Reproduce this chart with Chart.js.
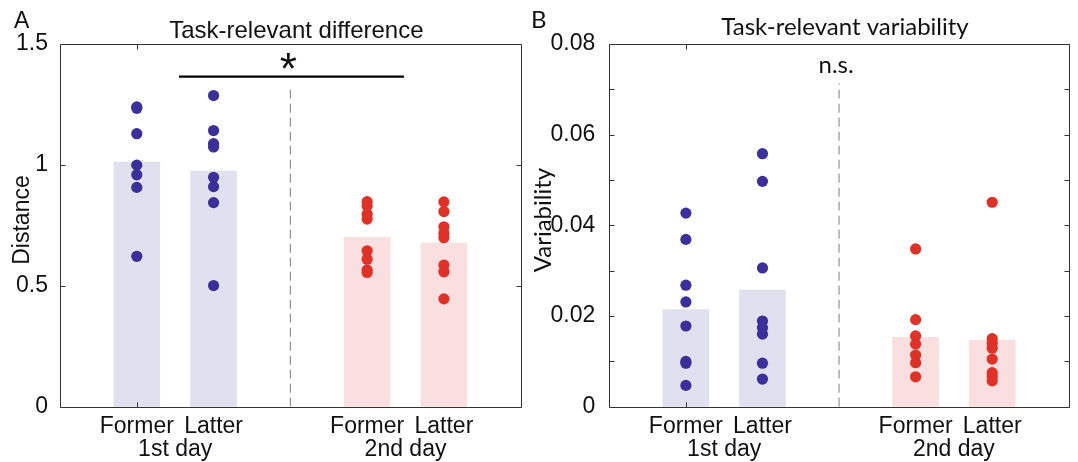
<!DOCTYPE html>
<html lang="en">
<head>
  <meta charset="UTF-8" />
  <title>Task-relevant difference and variability</title>
  <style>
    body { margin: 0; background: #fff; }
    #wrap { position: relative; width: 1078px; height: 462px; }
    #wrap canvas { position: absolute; left: 0; top: 0; }
    #chartB { pointer-events: none; }
  </style>
</head>
<body>
  <div id="wrap">
    <canvas id="chartA" width="1078" height="462"></canvas>
    <canvas id="chartB" width="1078" height="462"></canvas>
  </div>

  <script src="https://cdn.jsdelivr.net/npm/chart.js"></script>
  <script>
    // x positions: 1 = Former, 2 = Latter (1st day), 3 = divider, 4/5 = 2nd day
    const groupPos = [1, 2, 4, 5];
    const partLabels = ['Former', 'Latter'];
    const dayLabels = ['1st day', '2nd day'];

    // panel A: distance per subject
    const distFormer1 = [1.240, 1.234, 1.129, 0.999, 0.959, 0.907, 0.622];
    const distLatter1 = [1.287, 1.142, 1.088, 1.074, 0.949, 0.910, 0.844, 0.501];
    const distFormer2 = [0.848, 0.830, 0.796, 0.776, 0.645, 0.610, 0.566, 0.555];
    const distLatter2 = [0.847, 0.807, 0.744, 0.717, 0.699, 0.586, 0.558, 0.446];
    const distMeans = [1.012, 0.974, 0.700, 0.677];

    // panel B: variability per subject
    const varFormer1 = [0.0427, 0.0369, 0.0268, 0.0231, 0.0178, 0.0100, 0.0096, 0.0047];
    const varLatter1 = [0.0558, 0.0497, 0.0306, 0.0189, 0.0174, 0.0160, 0.0096, 0.0061];
    const varFormer2 = [0.0348, 0.0192, 0.0156, 0.0138, 0.0114, 0.0097, 0.0066];
    const varLatter2 = [0.0451, 0.0150, 0.0140, 0.0129, 0.0105, 0.0075, 0.0066, 0.0057];
    const varMeans = [0.0214, 0.0257, 0.0153, 0.0147];

    // significance bar (panel A) and divider tops
    const sigBarA = [1.55, 4.48, 1.365];
    const dividerTopA = 1.318;
    const dividerTopB = 0.0713;

    const BLUE = '#3b2f9c';
    const RED = '#e03127';
    const BLUE_BAR = '#e1e0ef';
    const RED_BAR = '#fadfe0';
    const FRAME = '#333333';
    const HELV = "'Liberation Sans', Arial, sans-serif";
    const MYRIAD = "Lato, 'Liberation Sans', sans-serif";

    // x tick labels: Former / Latter on the first line, day name on the second
    const xTickPos = [1, 1.5, 2, 4, 4.5, 5];
    const xTickText = [partLabels[0], ['', dayLabels[0]], partLabels[1],
                       partLabels[0], ['', dayLabels[1]], partLabels[1]];

    const toPts = (x, arr) => arr.map(v => ({ x: x, y: v }));

    // frame with inward ticks, like the original figure
    const framePlugin = {
      id: 'frame',
      afterDraw(chart) {
        const ctx = chart.ctx;
        const a = chart.chartArea;
        const ys = chart.scales.y;
        const xs = chart.scales.x;
        const L = Math.round(a.left) + 0.5, R = Math.round(a.right) + 0.5;
        const T = Math.round(a.top) + 0.5, B = Math.round(a.bottom) + 0.5;
        ctx.save();
        ctx.strokeStyle = FRAME;
        ctx.lineWidth = 1;
        ctx.beginPath();
        ctx.rect(L, T, R - L, B - T);
        ys.ticks.forEach(t => {
          const y = Math.round(ys.getPixelForValue(t.value)) + 0.5;
          ctx.moveTo(L, y); ctx.lineTo(L + 5, y);
          ctx.moveTo(R, y); ctx.lineTo(R - 5, y);
        });
        [1].forEach(v => {
          const x = Math.round(xs.getPixelForValue(v)) + 0.5;
          ctx.moveTo(x, T); ctx.lineTo(x, T + 5);
          ctx.moveTo(x, B); ctx.lineTo(x, B - 5);
        });
        ctx.stroke();
        ctx.restore();
      }
    };

    // titles, panel letters, axis titles and significance marks
    const textPlugin = {
      id: 'panelText',
      afterDraw(chart, args, o) {
        const ctx = chart.ctx;
        const a = chart.chartArea;
        ctx.save();
        ctx.fillStyle = '#111';
        ctx.textBaseline = 'alphabetic';
        ctx.textAlign = 'center';
        ctx.font = o.titleFont;
        ctx.fillText(o.title, (a.left + a.right) / 2 + 6, o.titleY);
        ctx.textAlign = 'left';
        ctx.font = o.letterFont;
        ctx.fillText(o.letter, o.letterX, 28);
        ctx.save();
        ctx.translate(o.yTitleX, 220);
        ctx.rotate(-Math.PI / 2);
        ctx.textAlign = 'center';
        ctx.textBaseline = 'middle';
        ctx.font = o.yTitleFont;
        ctx.fillText(o.yTitle, 0, 0);
        ctx.restore();
        ctx.textAlign = 'center';
        ctx.textBaseline = o.markBaseline;
        ctx.font = o.markFont;
        ctx.fillText(o.mark, chart.scales.x.getPixelForValue(3) + o.markDx, chart.scales.y.getPixelForValue(o.markY));
        ctx.restore();
      }
    };

    function makePanel(canvasId, p) {
      const datasets = [
        { type: 'scatter', data: toPts(groupPos[0], p.f1), backgroundColor: BLUE, pointRadius: 5.6, borderWidth: 0, order: 1 },
        { type: 'scatter', data: toPts(groupPos[1], p.l1), backgroundColor: BLUE, pointRadius: 5.6, borderWidth: 0, order: 1 },
        { type: 'scatter', data: toPts(groupPos[2], p.f2), backgroundColor: RED, pointRadius: 5.6, borderWidth: 0, order: 1 },
        { type: 'scatter', data: toPts(groupPos[3], p.l2), backgroundColor: RED, pointRadius: 5.6, borderWidth: 0, order: 1 },
        {
          type: 'bar',
          data: groupPos.map((x, i) => ({ x: x, y: p.means[i] })),
          backgroundColor: [BLUE_BAR, BLUE_BAR, RED_BAR, RED_BAR],
          barThickness: 46, grouped: false, order: 3
        },
        {
          type: 'line', data: [{ x: 3, y: 0 }, { x: 3, y: p.dividerTop }],
          borderColor: '#7d7d7d', borderWidth: 1, borderDash: [9, 5], pointRadius: 0, order: 2
        }
      ];
      if (p.sig) {
        datasets.push({
          type: 'line', data: [{ x: p.sig[0], y: p.sig[2] }, { x: p.sig[1], y: p.sig[2] }],
          borderColor: '#000', borderWidth: 2.2, pointRadius: 0, order: 0
        });
      }
      return new Chart(document.getElementById(canvasId), {
        type: 'bar',
        data: { datasets: datasets },
        options: {
          responsive: false,
          animation: false,
          events: [],
          layout: { padding: p.padding },
          plugins: {
            legend: { display: false },
            tooltip: { enabled: false },
            panelText: p.text
          },
          scales: {
            x: {
              type: 'linear', min: 0, max: 6, offset: false,
              grid: { display: false }, border: { display: false },
              afterBuildTicks: s => { s.ticks = xTickPos.map(v => ({ value: v })); },
              afterFit: s => { s.height = 55.3; },
              ticks: {
                autoSkip: false, maxRotation: 0, padding: 1,
                color: '#111', font: { family: HELV, size: 23, lineHeight: 0.97 },
                callback: (v, i) => xTickText[i]
              }
            },
            y: {
              min: 0, max: p.yMax,
              grid: { display: false }, border: { display: false },
              afterFit: s => { s.width = p.yWidth; },
              ticks: {
                stepSize: p.yStep, padding: p.yPad, color: '#111',
                font: { family: HELV, size: 23 },
                callback: p.yLabel
              }
            }
          }
        },
        plugins: [framePlugin, textPlugin]
      });
    }

    makePanel('chartA', {
      f1: distFormer1, l1: distLatter1, f2: distFormer2, l2: distLatter2, means: distMeans,
      dividerTop: dividerTopA, sig: sigBarA,
      yMax: 1.5, yStep: 0.5, yWidth: 60, yPad: 4,
      yLabel: v => String(+v.toFixed(2)),
      padding: { left: 0, top: 44, right: 1078 - 520.7, bottom: 0 },
      text: {
        title: 'Task-relevant difference', titleY: 38, titleFont: '24px ' + HELV,
        letter: 'A', letterX: 14, letterFont: '23px ' + HELV,
        yTitle: 'Distance', yTitleX: 23, yTitleFont: '23px ' + HELV,
        mark: '*', markY: 1.385, markDx: -2, markBaseline: 'middle', markFont: '44px ' + HELV
      }
    });

    makePanel('chartB', {
      f1: varFormer1, l1: varLatter1, f2: varFormer2, l2: varLatter2, means: varMeans,
      dividerTop: dividerTopB, sig: null,
      yMax: 0.08, yStep: 0.01, yWidth: 79.3, yPad: 6,
      yLabel: v => (Math.round(v * 100) % 2 === 0 ? String(+v.toFixed(2)) : ''),
      padding: { left: 530, top: 44, right: 1078 - 1068.8, bottom: 0 },
      text: {
        title: 'Task-relevant variability', titleY: 35, titleFont: '24px ' + MYRIAD,
        letter: 'B', letterX: 531, letterFont: '24px ' + MYRIAD,
        yTitle: 'Variability', yTitleX: 543, yTitleFont: '24px ' + MYRIAD,
        mark: 'n.s.', markY: 0.0735, markDx: -3, markBaseline: 'alphabetic', markFont: '24px ' + MYRIAD
      }
    });
  </script>
</body>
</html>
